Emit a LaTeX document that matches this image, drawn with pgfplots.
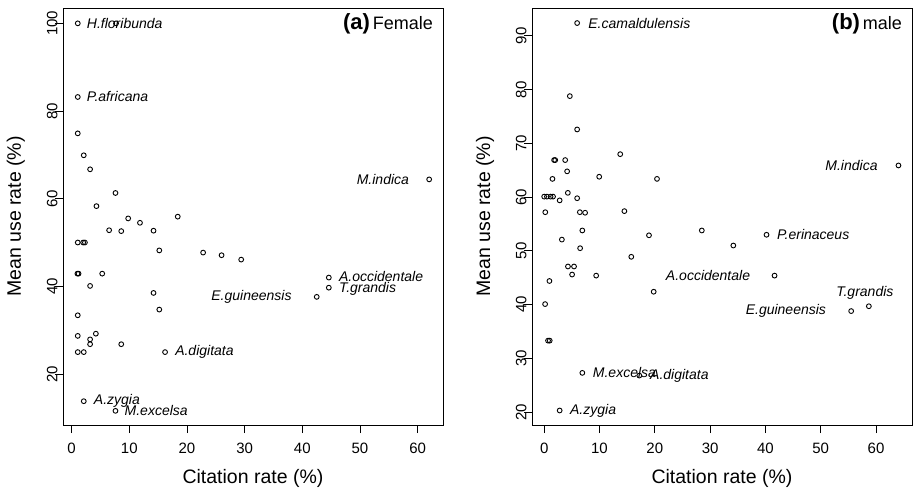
\documentclass[border=0pt]{standalone}
\usepackage{fontspec}
\setmainfont{Liberation Sans}
\usepackage{pgfplots}
\pgfplotsset{compat=1.18}

\pgfplotsset{
  rplot/.style={
    scale only axis, width=380pt, height=417pt,
    clip=false,
    axis line style={line width=0.9pt},
    tick style={line width=0.9pt, black},
    tick align=outside, major tick length=8pt,
    xtick pos=lower, ytick pos=left,
    xtick={0,10,...,60},
    /pgf/number format/assume math mode=true,
    tick label style={font=\fontsize{15}{18}\selectfont},
    yticklabel style={rotate=90, anchor=south},
    xticklabel style={anchor=north},
    yticklabel shift=-6pt,
    xticklabel shift=6pt,
    every axis x label/.style={at={([yshift=-58pt]axis description cs:0.5,0)}, anchor=base},
    every axis y label/.style={at={([xshift=-42pt]axis description cs:0,0.5)}, rotate=90, anchor=base},
    label style={font=\fontsize{19.5}{22}\selectfont},
    xlabel={Citation rate (\%)}, ylabel={Mean use rate (\%)},
  },
  pts/.style={only marks, mark=o, mark size=2.4pt, black, line width=0.9pt},
}
\tikzset{lab/.style={font=\fontsize{14}{16}\selectfont\itshape, inner sep=0pt}}

\begin{document}
\begin{tikzpicture}
\pgfresetboundingbox
\useasboundingbox (-63pt,-63pt) rectangle (850pt,425pt);

% (a) Female
\begin{axis}[rplot, at={(0pt,0pt)}, anchor=south west,
  xmin=-1.5, xmax=64.4, ymin=8.37, ymax=103.5,
  ytick={20,40,...,100}]
\addplot[pts] coordinates {
  (1.06,100) (7.7,100) (1.06,83.2) (1.06,74.9) (2.1,69.9) (3.2,66.7)
  (7.6,61.3) (4.3,58.3) (9.8,55.5) (11.85,54.5) (18.4,55.9) (6.5,52.8)
  (8.6,52.6) (14.2,52.7) (1.06,50.0) (2.0,50.0) (2.3,50.0) (15.2,48.2)
  (22.8,47.7) (26.0,47.1) (29.4,46.1) (1.0,42.9) (1.2,42.9) (5.3,42.9)
  (3.2,40.1) (14.2,38.5) (15.2,34.7) (1.06,33.4) (1.06,28.7) (4.2,29.2)
  (3.2,27.9) (3.2,26.8) (8.6,26.8) (1.06,25.0) (2.1,25.0) (16.2,25.0)
  (2.1,13.8) (7.6,11.6) (62.0,64.4) (44.6,42.0) (44.6,39.7) (42.5,37.6)
};
\node[lab, anchor=west, xshift=9pt] at (axis cs:1.06,100) {H.floribunda};
\node[lab, anchor=west, xshift=9pt] at (axis cs:1.06,83.2) {P.africana};
\node[lab, anchor=west, xshift=10pt] at (axis cs:16.2,25.0) {A.digitata};
\node[lab, anchor=west, xshift=10pt] at (axis cs:2.1,13.8) {A.zygia};
\node[lab, anchor=west, xshift=9pt] at (axis cs:7.6,11.6) {M.excelsa};
\node[lab, anchor=east, xshift=-20pt] at (axis cs:62.0,64.4) {M.indica};
\node[lab, anchor=west, xshift=10pt] at (axis cs:44.6,42.2) {A.occidentale};
\node[lab, anchor=west, xshift=10pt] at (axis cs:44.6,39.5) {T.grandis};
\node[lab, anchor=east, xshift=-25pt] at (axis cs:42.5,37.6) {E.guineensis};
\node[anchor=base east, inner sep=0pt] at ([xshift=-10pt, yshift=-21.5pt]rel axis cs:1,1)
  {{\fontsize{22}{24}\selectfont\bfseries (a)} {\fontsize{18}{20}\selectfont Female}};
\end{axis}

% (b) male
\begin{axis}[rplot, at={(469pt,0pt)}, anchor=south west,
  xmin=-2.2, xmax=66.5, ymin=17.6, ymax=95.2,
  ytick={20,30,...,90}]
\addplot[pts] coordinates {
  (5.96,92.4) (4.64,78.8) (5.96,72.6) (13.75,68.0) (1.8,66.9) (2.0,66.9)
  (3.8,66.9) (4.15,64.8) (1.5,63.4) (9.95,63.8) (20.4,63.4) (4.28,60.8)
  (0.0,60.1) (0.5,60.1) (1.15,60.1) (1.6,60.1) (5.96,59.8) (2.8,59.4)
  (0.2,57.2) (6.45,57.2) (7.4,57.1) (14.5,57.4) (6.9,53.8) (18.95,52.9)
  (28.5,53.8) (3.2,52.1) (6.5,50.5) (15.75,48.9) (4.3,47.1) (5.4,47.1)
  (5.05,45.6) (9.4,45.4) (0.95,44.4) (19.8,42.4) (0.17,40.1) (0.7,33.3)
  (1.0,33.3) (6.9,27.3) (17.2,26.8) (2.8,20.3) (64.05,65.9) (34.2,51.0)
  (40.2,53.0) (41.65,45.4) (55.5,38.8) (58.7,39.7)
};
\node[lab, anchor=west, xshift=11pt] at (axis cs:5.96,92.4) {E.camaldulensis};
\node[lab, anchor=east, xshift=-20.7pt] at (axis cs:64.05,65.9) {M.indica};
\node[lab, anchor=west, xshift=10.4pt] at (axis cs:40.2,53.0) {P.erinaceus};
\node[lab, anchor=east, xshift=-24.3pt] at (axis cs:41.65,45.4) {A.occidentale};
\node[lab, anchor=south, xshift=-4pt, yshift=7pt] at (axis cs:58.7,39.7) {T.grandis};
\node[lab, anchor=east, xshift=-25pt] at (axis cs:55.5,38.8) {E.guineensis};
\node[lab, anchor=west, xshift=10.4pt] at (axis cs:6.9,27.3) {M.excelsa};
\node[lab, anchor=west, xshift=10.7pt] at (axis cs:17.2,26.8) {A.digitata};
\node[lab, anchor=west, xshift=10.3pt] at (axis cs:2.8,20.3) {A.zygia};
\node[anchor=base east, inner sep=0pt] at ([xshift=-10pt, yshift=-21.5pt]rel axis cs:1,1)
  {{\fontsize{22}{24}\selectfont\bfseries (b)} {\fontsize{18}{20}\selectfont male}};
\end{axis}
\end{tikzpicture}
\end{document}
